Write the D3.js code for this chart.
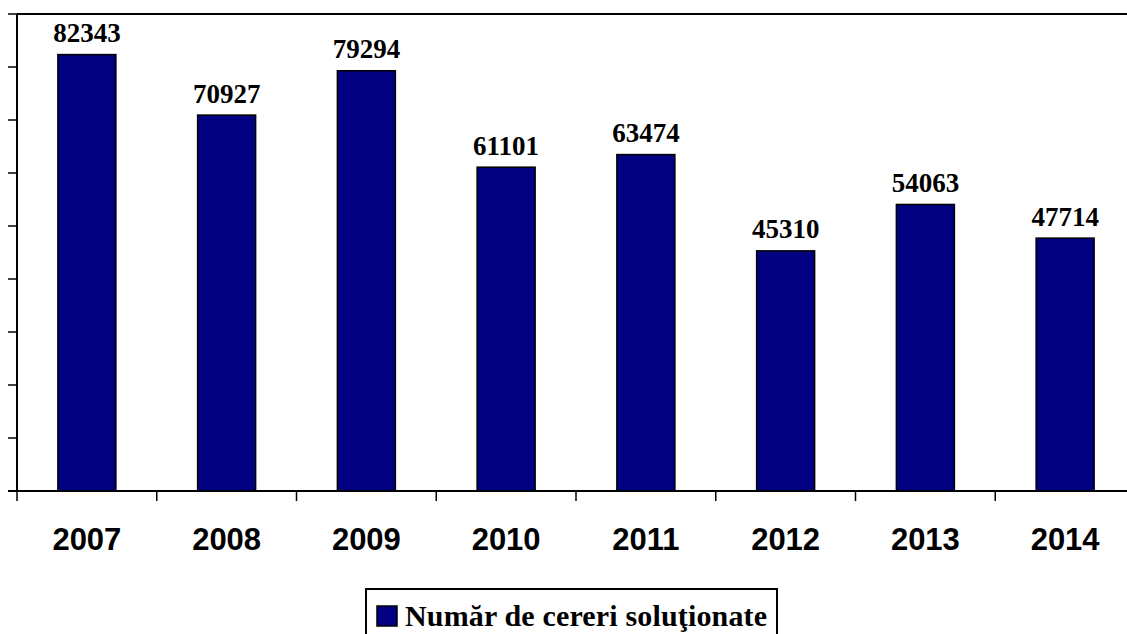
<!DOCTYPE html>
<html>
<head>
  <meta charset="utf-8">
  <script src="https://d3js.org/d3.v7.min.js"></script>
  <style>
    body { margin:0; background:#fff; }
    svg { display:block; }
  </style>
</head>
<body>
  <div id="container"></div>
  <script>
    var w = 1127,
        h = 634;

    var years = ['2007', '2008', '2009', '2010', '2011', '2012', '2013', '2014'];
    var values = [82343, 70927, 79294, 61101, 63474, 45310, 54063, 47714];
    var yTicks = [0, 10000, 20000, 30000, 40000, 50000, 60000, 70000, 80000, 90000];
    var seriesName = 'Număr de cereri soluţionate';

    var svg = d3.select('#container').append('svg')
        .attr('width', w)
        .attr('height', h);

    var plotLeft = 17, plotTop = 14, plotBottom = 491, plotRight = 1135;

    var x = d3.scaleBand().domain(years).range([plotLeft, plotRight])
        .paddingInner(0.585).paddingOuter(0.2925);
    var y = d3.scaleLinear().domain([0, 90000]).range([plotBottom, plotTop]);

    // plot frame (top + left, bottom is the axis)
    svg.append('line')
      .attr('x1', plotLeft).attr('x2', w).attr('y1', plotTop).attr('y2', plotTop)
      .style('stroke', '#000').style('stroke-width', 2);
    svg.append('line')
      .attr('x1', plotLeft).attr('x2', plotLeft).attr('y1', plotTop).attr('y2', plotBottom)
      .style('stroke', '#000').style('stroke-width', 2);

    // y ticks (no labels)
    svg.selectAll('line.ytick')
        .data(yTicks)
      .enter().append('line')
        .attr('class', 'ytick')
        .attr('x1', plotLeft - 9).attr('x2', plotLeft)
        .attr('y1', function(d) { return y(d); })
        .attr('y2', function(d) { return y(d); })
        .style('stroke', '#000').style('stroke-width', 1.5);

    // bars
    svg.selectAll('rect.bar')
        .data(values)
      .enter().append('rect')
        .attr('class', 'bar')
        .attr('x', function(d, i) { return x(years[i]); })
        .attr('y', function(d) { return y(d); })
        .attr('width', x.bandwidth())
        .attr('height', function(d) { return y(0) - y(d); })
        .style('fill', '#000080')
        .style('stroke', '#000')
        .style('stroke-width', 1.5);

    // x axis line + category boundary ticks
    svg.append('line')
      .attr('x1', plotLeft - 9).attr('x2', w).attr('y1', plotBottom).attr('y2', plotBottom)
      .style('stroke', '#000').style('stroke-width', 2);
    var bounds = d3.range(years.length + 1).map(function(i) { return plotLeft + i * x.step(); });
    svg.selectAll('line.xtick')
        .data(bounds)
      .enter().append('line')
        .attr('class', 'xtick')
        .attr('x1', function(d) { return d; })
        .attr('x2', function(d) { return d; })
        .attr('y1', plotBottom).attr('y2', plotBottom + 10)
        .style('stroke', '#000').style('stroke-width', 1.5);

    // value labels
    svg.selectAll('text.val')
        .data(values)
      .enter().append('text')
        .attr('class', 'val')
        .attr('x', function(d, i) { return x(years[i]) + x.bandwidth() / 2; })
        .attr('y', function(d) { return y(d) - 12.5; })
        .attr('text-anchor', 'middle')
        .style('font-family', '"Liberation Serif", "Times New Roman", serif')
        .style('font-weight', 'bold')
        .style('font-size', '27px')
        .text(function(d) { return d; });

    // year labels
    svg.selectAll('text.year')
        .data(years)
      .enter().append('text')
        .attr('class', 'year')
        .attr('x', function(d) { return x(d) + x.bandwidth() / 2; })
        .attr('y', 550)
        .attr('text-anchor', 'middle')
        .style('font-family', '"Liberation Sans", Arial, sans-serif')
        .style('font-weight', 'bold')
        .style('font-size', '31px')
        .text(function(d) { return d; });

    // legend
    var lg = svg.append('g');
    lg.append('rect')
      .attr('x', 366).attr('y', 589).attr('width', 411).attr('height', 60)
      .style('fill', '#fff').style('stroke', '#000').style('stroke-width', 2);
    lg.append('rect')
      .attr('x', 377).attr('y', 606).attr('width', 20).attr('height', 20)
      .style('fill', '#000080').style('stroke', '#000').style('stroke-width', 1.5);
    lg.append('text')
      .attr('x', 405).attr('y', 626)
      .attr('textLength', 362)
      .attr('lengthAdjust', 'spacing')
      .style('font-family', '"Liberation Serif", "Times New Roman", serif')
      .style('font-weight', 'bold')
      .style('font-size', '30px')
      .text(seriesName);
  </script>
</body>
</html>
